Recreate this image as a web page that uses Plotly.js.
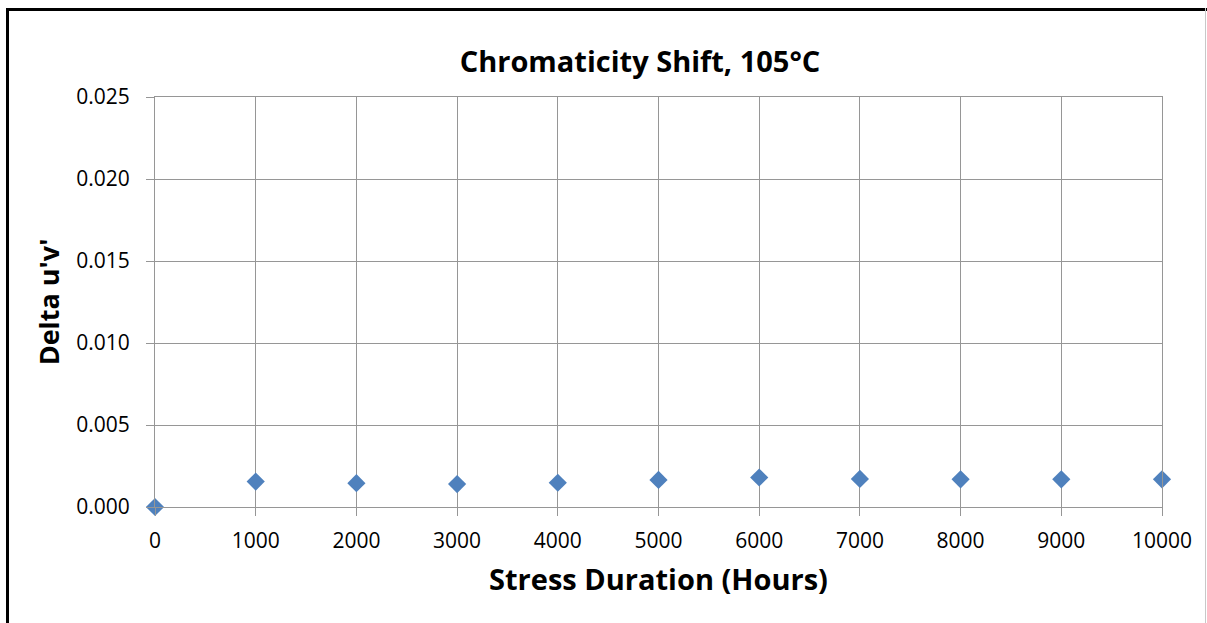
<!DOCTYPE html>
<html>
<head>
<meta charset="utf-8">
<script src="https://cdn.plot.ly/plotly-3.0.1.min.js"></script>
<style>
  html, body { margin: 0; padding: 0; background: #fff; width: 1207px; height: 623px; overflow: hidden; }
  #chart { position: absolute; left: 0; top: 0; width: 1207px; height: 623px; }
  #frame { position: absolute; left: 6px; top: 8px; width: 1198px; height: 640px;
           border-left: 3px solid #000; border-top: 3px solid #000; pointer-events: none; }
  #rline { position: absolute; left: 1205px; top: 8px; width: 1px; height: 615px; background: #c8c8c8; }
</style>
</head>
<body>
<div id="chart"></div>
<div id="frame"></div>
<div id="rline"></div>
<script>
const hours = [0, 1000, 2000, 3000, 4000, 5000, 6000, 7000, 8000, 9000, 10000];
const deltaUV = [0.0000, 0.00155, 0.00145, 0.00140, 0.00148, 0.00165, 0.00180, 0.00171, 0.00169, 0.00169, 0.00169];
const xTicks = [0, 1000, 2000, 3000, 4000, 5000, 6000, 7000, 8000, 9000, 10000];
const yTicks = [0, 0.005, 0.010, 0.015, 0.020, 0.025];
const yTickText = ['0.000', '0.005', '0.010', '0.015', '0.020', '0.025'];

const gridColor = '#969696';
const font = 'Open Sans, Noto Sans, sans-serif';

Plotly.newPlot('chart', [{
  x: hours, y: deltaUV, type: 'scatter', mode: 'markers',
  marker: { symbol: 'diamond', size: 14, color: '#4F81BD' },
  cliponaxis: false, hoverinfo: 'x+y'
}], {
  width: 1207, height: 623, autosize: false,
  margin: { l: 155, r: 45, t: 97, b: 116 },
  paper_bgcolor: '#fff', plot_bgcolor: '#fff',
  showlegend: false,
  title: { text: '<b>Chromaticity Shift, 105°C</b>', font: { family: font, size: 29, color: '#000' },
           x: 640 / 1207, xref: 'container', xanchor: 'center', y: 1 - 62 / 623, yref: 'container', yanchor: 'middle' },
  xaxis: {
    range: [0, 10000], tickvals: xTicks, ticktext: xTicks.map(String),
    showgrid: true, gridcolor: gridColor, gridwidth: 1,
    showline: true, linecolor: gridColor, linewidth: 1, mirror: true,
    zeroline: false, ticks: 'outside', ticklen: 8, tickcolor: gridColor,
    ticklabelstandoff: 7,
    tickfont: { family: font, size: 21, color: '#000' },
    title: { text: '<b>Stress Duration (Hours)</b>', font: { family: font, size: 29, color: '#000' }, standoff: 16 }
  },
  yaxis: {
    range: [0, 0.025], tickvals: yTicks, ticktext: yTickText,
    showgrid: true, gridcolor: gridColor, gridwidth: 1,
    showline: true, linecolor: gridColor, linewidth: 1, mirror: true,
    zeroline: false, ticks: 'outside', ticklen: 8, tickcolor: gridColor,
    ticklabelstandoff: 12,
    tickfont: { family: font, size: 21, color: '#000' },
    title: { text: "<b>Delta u'v'</b>", font: { family: font, size: 27, color: '#000' }, standoff: 8 }
  }
}, { displayModeBar: false, staticPlot: true });
</script>
</body>
</html>
